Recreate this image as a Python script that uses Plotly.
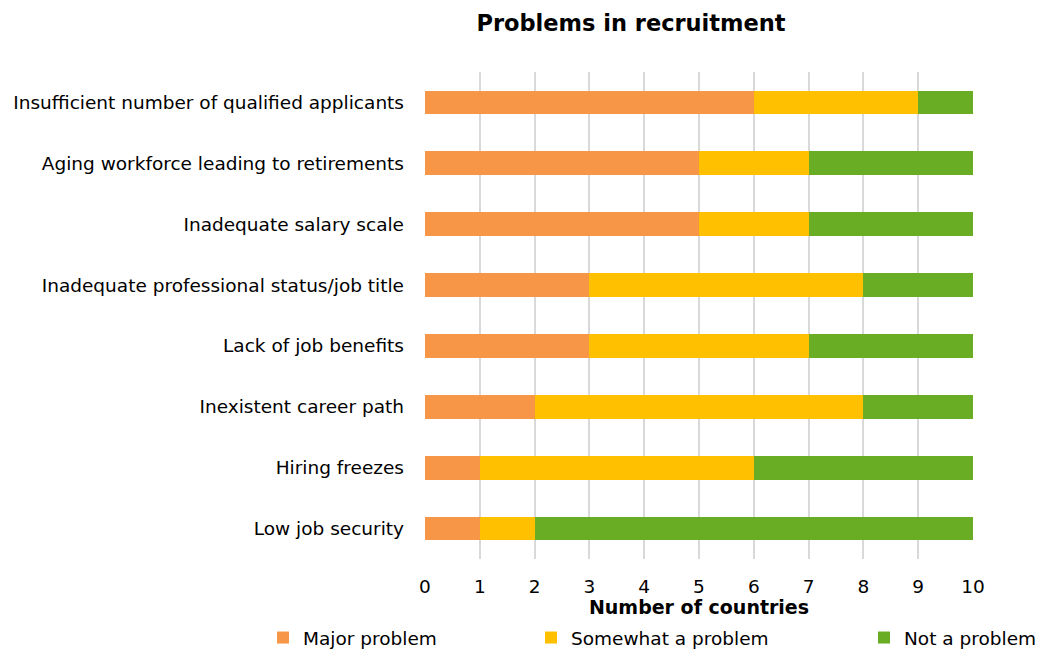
import plotly.graph_objects as go

# Problems reported, top to bottom
problems = [
    "Insufficient number of qualified applicants",
    "Aging workforce leading to retirements",
    "Inadequate salary scale",
    "Inadequate professional status/job title",
    "Lack of job benefits",
    "Inexistent career path",
    "Hiring freezes",
    "Low job security",
]

# Number of countries per answer
major_problem = [6, 5, 5, 3, 3, 2, 1, 1]
somewhat_problem = [3, 2, 2, 5, 4, 6, 5, 1]
not_problem = [1, 3, 3, 2, 3, 2, 4, 8]

series_names = ["Major problem", "Somewhat a problem", "Not a problem"]
series_colors = ["#F79646", "#FFC000", "#69AD24"]
x_ticks = list(range(0, 11))

FONT = "DejaVu Sans"
SIZE = 18.5

fig = go.Figure()
for i, (name, vals, color) in enumerate(
    zip(series_names, [major_problem, somewhat_problem, not_problem], series_colors)
):
    fig.add_trace(
        go.Bar(
            y=problems,
            x=vals,
            name=name,
            orientation="h",
            marker=dict(color=color, line=dict(width=0)),
            width=0.39,
            showlegend=True,
            legend="legend" if i == 0 else f"legend{i + 1}",
        )
    )

legend_common = dict(
    orientation="h",
    xref="container",
    yref="container",
    yanchor="middle",
    xanchor="left",
    y=(650 - 638) / 650,
    font=dict(family=FONT, size=SIZE, color="#000000"),
    bgcolor="rgba(0,0,0,0)",
    itemwidth=30,
    tracegroupgap=0,
)

fig.update_layout(
    width=1037,
    height=650,
    barmode="stack",
    showlegend=True,
    plot_bgcolor="#FFFFFF",
    paper_bgcolor="#FFFFFF",
    margin=dict(l=425, r=64, t=72, b=91, autoexpand=False),
    font=dict(family=FONT, size=SIZE, color="#000000"),
    title=dict(
        text="<b>Problems in recruitment</b>",
        x=(631 - 425) / 548,
        xref="paper",
        xanchor="center",
        y=1 - 23 / 650,
        yanchor="middle",
        font=dict(family=FONT, size=22.5, color="#000000"),
    ),
    xaxis=dict(
        range=[0, 10],
        tickvals=x_ticks,
        ticktext=[str(t) for t in x_ticks],
        showgrid=True,
        gridcolor="#D9D9D9",
        gridwidth=2,
        zeroline=False,
        showline=False,
        ticks="",
        ticklabelstandoff=14,
        tickfont=dict(family=FONT, size=SIZE),
        title=dict(
            text="<b>Number of countries</b>",
            font=dict(family=FONT, size=19),
            standoff=2,
        ),
        automargin=False,
        fixedrange=True,
    ),
    yaxis=dict(
        categoryorder="array",
        categoryarray=problems,
        autorange="reversed",
        showgrid=False,
        zeroline=False,
        showline=False,
        ticks="",
        ticklabelstandoff=20,
        tickfont=dict(family=FONT, size=SIZE),
        automargin=False,
        fixedrange=True,
    ),
    legend=dict(legend_common, x=(283 - 20) / 1037),
    legend2=dict(legend_common, x=(551 - 20) / 1037),
    legend3=dict(legend_common, x=(884 - 20) / 1037),
)

fig.write_html("out.html")
